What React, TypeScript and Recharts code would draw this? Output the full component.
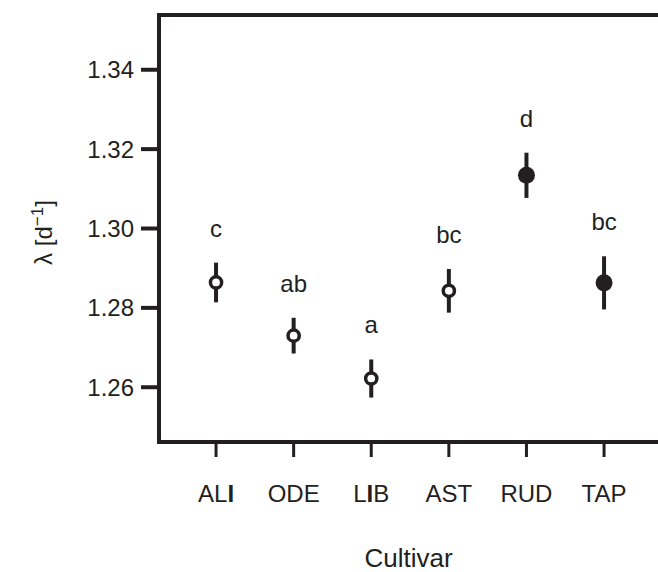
import { ScatterChart, Scatter, XAxis, YAxis, ErrorBar, ReferenceLine, Label } from "recharts";

// population growth rate per cultivar, mean ± CI, with significance letters
const cultivars = ["ALI", "ODE", "LIB", "AST", "RUD", "TAP"];
const lambda = [1.2864, 1.273, 1.2622, 1.2843, 1.3134, 1.2863];
const ci = [0.005, 0.0045, 0.0048, 0.0055, 0.0057, 0.0067];
const letters = ["c", "ab", "a", "bc", "d", "bc"];
const marker = ["open", "open", "open", "open", "filled", "filled"];
const yTicks = [1.26, 1.28, 1.3, 1.32, 1.34];
const xTicks = [1, 2, 3, 4, 5, 6];

const INK = "#231f20";
const FONT = "'Liberation Sans', Arial, Helvetica, sans-serif";
const Y_MIN = 1.2462;
const Y_MAX = 1.3538;

const rows = cultivars.map((name, i) => ({
  pos: i + 1,
  name,
  lambda: lambda[i],
  ci: ci[i],
  top: lambda[i] + ci[i],
  letter: letters[i],
  marker: marker[i],
}));

function CultivarTick(props: any) {
  const { x, y, payload } = props;
  const name = cultivars[payload.value - 1] ?? "";
  // the source figure sets the "I" heavier than the rest
  const parts = name.split(/(I)/).filter(Boolean);
  return (
    <text x={x} y={y} dy="0.71em" textAnchor="middle" fill={INK} fontSize={24} fontFamily={FONT}>
      {parts.map((p: string, i: number) => (
        <tspan key={i} fontWeight={p === "I" ? "bold" : undefined}>
          {p}
        </tspan>
      ))}
    </text>
  );
}

function LambdaLabel(props: any) {
  const vb = props.viewBox ?? { x: 0, y: 15, height: 427 };
  const x = 52;
  const cy = vb.y + vb.height / 2 + 4;
  return (
    <text
      x={x}
      y={cy}
      transform={`rotate(-90, ${x}, ${cy})`}
      textAnchor="middle"
      fill={INK}
      fontSize={24}
      fontFamily={FONT}
    >
      λ [d
      <tspan dy={-9} fontSize={17}>
        −1
      </tspan>
      <tspan dy={9}>]</tspan>
    </text>
  );
}

function Marker(props: any) {
  const { cx, cy, payload } = props;
  if (payload.marker === "filled") return <circle cx={cx} cy={cy} r={8.5} fill={INK} />;
  return <circle cx={cx} cy={cy} r={5.6} fill="#fff" stroke={INK} strokeWidth={3.5} />;
}

function Letter(props: any) {
  const { cx, cy, payload } = props;
  return (
    <text x={cx} y={cy - 26} textAnchor="middle" fill={INK} fontSize={24} fontFamily={FONT}>
      {payload.letter}
    </text>
  );
}

export default function App() {
  return (
    <div
      style={{
        position: "absolute",
        left: 0,
        top: 0,
        width: 658,
        height: 572,
        overflow: "hidden",
        background: "#fff",
        fontFamily: FONT,
      }}
    >
      <ScatterChart width={658} height={572} margin={{ top: 15, right: 0, bottom: 0, left: 0 }}>
        <XAxis
          type="number"
          dataKey="pos"
          domain={[0.265, 6.695]}
          ticks={xTicks}
          allowDataOverflow
          height={130}
          axisLine={{ stroke: INK, strokeWidth: 4 }}
          tickLine={{ stroke: INK, strokeWidth: 3 }}
          tickSize={15}
          tickMargin={28}
          tick={<CultivarTick />}
          interval={0}
        >
          <Label
            value="Cultivar"
            position="insideBottom"
            offset={5}
            fill={INK}
            fontSize={26}
            fontFamily={FONT}
          />
        </XAxis>
        <YAxis
          type="number"
          domain={[Y_MIN, Y_MAX]}
          ticks={yTicks}
          allowDataOverflow
          width={159}
          axisLine={{ stroke: INK, strokeWidth: 4, strokeLinecap: "square" }}
          tickLine={{ stroke: INK, strokeWidth: 4 }}
          tickSize={18}
          tickMargin={7}
          tick={{ fill: INK, fontSize: 24, fontFamily: FONT }}
          tickFormatter={(v: number) => v.toFixed(2)}
          interval={0}
        >
          <Label content={<LambdaLabel />} />
        </YAxis>
        <ReferenceLine y={Y_MAX} stroke={INK} strokeWidth={4} ifOverflow="visible" />
        <Scatter data={rows} dataKey="lambda" shape={() => <g />} isAnimationActive={false}>
          <ErrorBar dataKey="ci" direction="y" width={0} stroke={INK} strokeWidth={4} />
        </Scatter>
        <Scatter data={rows} dataKey="lambda" shape={<Marker />} isAnimationActive={false} />
        <Scatter data={rows} dataKey="top" shape={<Letter />} isAnimationActive={false} />
      </ScatterChart>
    </div>
  );
}
